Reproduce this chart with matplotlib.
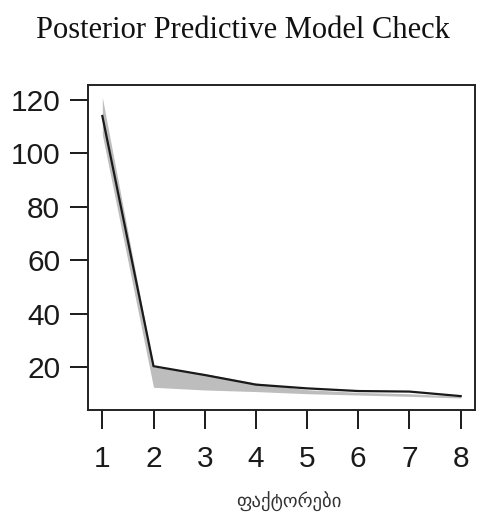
import numpy as np
import matplotlib
matplotlib.use("Agg")
import matplotlib.pyplot as plt

factors = [1, 2, 3, 4, 5, 6, 7, 8]
observed = [114, 20.3, 17, 13.4, 12, 11, 10.8, 9.1]
sim_low = [107, 12.4, 11.4, 10.8, 10.0, 9.5, 9.0, 8.4]
sim_high = [121, 20.0, 17.5, 14.0, 11.5, 10.5, 10.0, 9.0]

fig = plt.figure(figsize=(4.82, 5.29), dpi=100)
ax = fig.add_axes([88 / 482, 1 - 410 / 529, 387 / 482, 325 / 529])

ax.fill_between(factors, sim_low, sim_high, color="#bdbdbd", linewidth=0)
ax.plot(factors, observed, color="#1a1a1a", linewidth=1.6)

ax.set_xlim(0.72, 8.28)
ax.set_ylim(3.9, 125.6)
ax.set_xticks(factors)
ax.set_yticks([20, 40, 60, 80, 100, 120])
for s in ax.spines.values():
    s.set_linewidth(1.4)
    s.set_color("#222222")
ax.tick_params(axis="x", length=14, width=1.4, pad=11, labelsize=21.5, colors="#1a1a1a")
ax.tick_params(axis="y", length=13, width=1.4, pad=7, labelsize=21.5, colors="#1a1a1a")
for lab in ax.get_xticklabels() + ax.get_yticklabels():
    lab.set_family(["Liberation Sans", "DejaVu Sans"])

fig.text(243 / 482, 1 - 30 / 529, "Posterior Predictive Model Check",
         ha="center", va="center", fontsize=22, family=["Liberation Serif", "DejaVu Serif"],
         color="#111111")
fig.text(289 / 482, 1 - 502 / 529, "ფაქტორები", ha="center", va="center",
         fontsize=13.5, family=["DejaVu Sans"], color="#333333")

fig.savefig("out.png", dpi=100)
